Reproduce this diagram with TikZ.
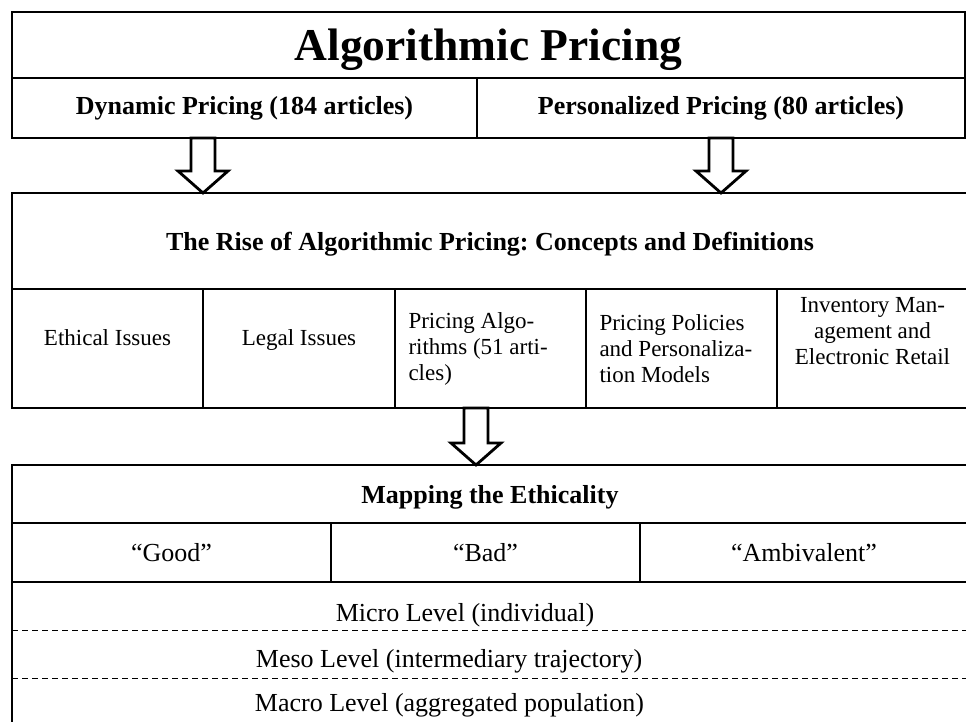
\documentclass[tikz,border=0pt]{standalone}
\usepackage{fontspec}
\setmainfont{Liberation Serif}
\frenchspacing
\usetikzlibrary{calc,positioning}
\tikzset{
    box/.style ={draw, rectangle, line width=2.8pt, inner sep=0pt, outer sep=0pt},
    bighead/.style ={font=\bfseries\fontsize{45.5}{50}\selectfont},
    head/.style ={font=\bfseries\fontsize{26}{30}\selectfont},
    body/.style ={font=\fontsize{26}{30}\selectfont},
    cellfont/.style ={font=\fontsize{23}{26}\selectfont},
    hollow/.style ={draw, line width=2.8pt, fill=white, line join=miter},
    levelline/.style ={line width=1pt, dash pattern=on 6pt off 4pt}
}
% hollow block arrow from a point on one box to a point on the next
\newcommand{\blockarrow}[2]{%
  \draw[hollow] ($(#1)+(-12,0)$) -- ($(#1)+(12,0)$) -- ($(#2)+(12,-22)$)
    -- ($(#2)+(25,-22)$) -- (#2) -- ($(#2)+(-25,-22)$) -- ($(#2)+(-12,-22)$) -- cycle;}

\begin{document}
\begin{tikzpicture}[x=1pt, y=-1pt]
\useasboundingbox (0,0) rectangle (966,721);
\clip (0,0) rectangle (966,721);

% top block
\node[box, bighead, text depth=0pt, minimum width=953pt, minimum height=66pt] (title) at (488.5,45) {Algorithmic Pricing};
\node[box, head, minimum width=465pt, minimum height=60pt] (dyn) at (244.5,108) {Dynamic Pricing (184 articles)};
\node[box, head, minimum width=488pt, minimum height=60pt] (pers) at (721,108) {Personalized Pricing (80 articles)};

% middle block
\node[box, head, text depth=0pt, minimum width=956pt, minimum height=96pt] (rise) at (490,241) {The Rise of Algorithmic Pricing: Concepts and Definitions};
\node[box, minimum width=191pt, minimum height=119pt] (eth) at (107.5,348.5) {};
\node[box, minimum width=192pt, minimum height=119pt] (leg) at (299,348.5) {};
\node[box, cellfont, text width=164pt, align=flush left, minimum width=191pt, minimum height=119pt] (alg) at (490.5,348.5) {Pricing Algo-\\rithms (51 arti-\\cles)};
\node[box, cellfont, text width=164pt, align=flush left, minimum width=191pt, minimum height=119pt] (pol) at (681.5,348.5) {Pricing Policies\\and Personaliza-\\tion Models};
\node[box, minimum width=191pt, minimum height=119pt] (inv) at (872.5,348.5) {};
\node[cellfont, anchor=base] (ethtxt) at (107.5,345) {Ethical Issues};
\node[cellfont, anchor=base] (legtxt) at (299,345) {Legal Issues};
\node[cellfont, align=center] (invtxt) at (872.5,331) {Inventory Man-\\agement and\\Electronic Retail};

% bottom block
\node[box, head, text depth=0pt, minimum width=956pt, minimum height=58pt] (map) at (490,494) {Mapping the Ethicality};
\node[box, body, minimum width=319pt, minimum height=59pt] (good) at (171.5,552.5) {``Good''};
\node[box, body, minimum width=309pt, minimum height=59pt] (bad) at (485.5,552.5) {``Bad''};
\node[box, body, minimum width=328pt, minimum height=59pt] (amb) at (804,552.5) {``Ambivalent''};
\node[box, minimum width=956pt, minimum height=178pt] (lv) at (490,671) {};
\node[body, anchor=base] (micro) at (465,621) {Micro Level (individual)};
\node[body, anchor=base] (meso) at (449,667) {Meso Level (intermediary trajectory)};
\node[body, anchor=base] (macro) at (449.5,711) {Macro Level (aggregated population)};
\coordinate (d1) at (0,630);
\coordinate (d2) at (0,678);
\draw[levelline] (lv.west |- d1) -- (lv.east |- d1);
\draw[levelline] (lv.west |- d2) -- (lv.east |- d2);

% arrows
\coordinate (a1) at (203,0);
\coordinate (a2) at (721,0);
\coordinate (a3) at (476,0);
\blockarrow{dyn.south -| a1}{rise.north -| a1}
\blockarrow{pers.south -| a2}{rise.north -| a2}
\blockarrow{alg.south -| a3}{map.north -| a3}
\end{tikzpicture}
\end{document}
